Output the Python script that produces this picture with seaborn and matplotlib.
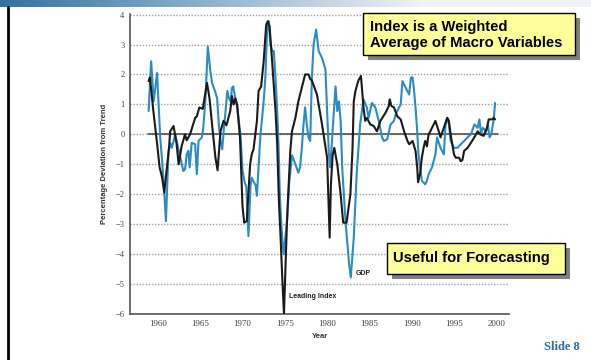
import numpy as np
import pandas as pd
import matplotlib
matplotlib.use("Agg")
import matplotlib.pyplot as plt
import seaborn as sns
from matplotlib.patches import Rectangle
from matplotlib.lines import Line2D

# Leading index (percentage deviation from trend)
lead_year = [1958.9, 1959.05, 1959.2, 1959.5, 1959.9, 1960.2, 1960.5, 1960.75, 1961.1, 1961.3,
             1961.45, 1961.85, 1962.2, 1962.45, 1962.8, 1963.2, 1963.4, 1963.8, 1964.4, 1964.6,
             1964.9, 1965.3, 1965.8, 1966.1, 1966.4, 1966.8, 1967.05, 1967.4, 1967.75, 1968.1,
             1968.55, 1968.75, 1968.95, 1969.15, 1969.35, 1969.7, 1970.0, 1970.2, 1970.5, 1970.9,
             1971.1, 1971.3, 1971.7, 1971.9, 1972.2, 1972.5, 1972.8, 1973.0, 1973.2, 1973.5,
             1973.9, 1974.1, 1974.3, 1974.5, 1974.7, 1974.9, 1975.27, 1975.65, 1975.85, 1976.25,
             1976.6, 1977.0, 1977.4, 1977.8, 1978.0, 1978.2, 1978.8, 1979.4, 1980.0, 1980.3,
             1980.45, 1980.65, 1980.85, 1981.2, 1981.6, 1981.9, 1982.3, 1982.75, 1983.0, 1983.15,
             1983.35, 1983.7, 1984.0, 1984.3, 1984.5, 1984.7, 1985.1, 1985.5, 1985.9, 1986.3,
             1986.9, 1987.3, 1987.4, 1987.6, 1987.9, 1988.3, 1988.7, 1989.1, 1989.5, 1989.7,
             1990.1, 1990.45, 1990.65, 1990.75, 1991.0, 1991.2, 1991.4, 1991.6, 1991.8, 1992.0,
             1992.2, 1992.4, 1992.8, 1993.2, 1993.4, 1993.8, 1994.2, 1994.4, 1994.6, 1995.0,
             1995.2, 1995.6, 1995.8, 1996.0, 1996.2, 1996.6, 1997.0, 1997.4, 1997.8, 1998.1,
             1998.5, 1998.9, 1999.1, 1999.5, 1999.7, 1999.85]
lead_value = [1.78, 1.9, 1.5, 0.68, -0.3, -1.1, -1.45, -1.95, -1.0, -0.5,
              0.1, 0.28, -0.3, -1.0, -0.4, 0.0, -0.2, 0.0, 0.55, 0.6,
              0.9, 0.85, 1.72, 1.2, 0.33, -0.78, -1.2, 0.1, 0.45, 0.3,
              0.78, 1.28, 1.0, 1.2, 1.0, -0.1, -2.4, -2.95, -2.9, -1.0,
              -0.65, -0.5, 0.44, 1.45, 1.6, 2.44, 3.67, 3.78, 3.6, 2.44,
              0.78, -0.33, -2.2, -3.45, -4.8, -6.0, -2.78, -0.55, 0.11, 0.55,
              1.1, 1.55, 2.0, 2.0, 1.85, 1.8, 1.33, 0.33, -0.78, -3.45,
              -1.67, -0.7, -0.45, -1.0, -2.0, -2.95, -2.95, -2.0, -0.5, 1.1,
              1.45, 1.8, 1.95, 0.9, 0.45, 0.55, 0.33, 0.28, 0.1, 0.45,
              0.72, 0.95, 1.17, 0.95, 0.9, 0.6, 0.5, 0.1, -0.22, -0.33,
              -0.22, -0.55, -1.1, -1.6, -1.3, -0.78, -0.45, -0.22, -0.4, 0.0,
              0.1, 0.22, 0.45, 0.1, -0.1, 0.22, 0.55, 0.45, 0.0, -0.67,
              -0.78, -0.78, -0.9, -0.85, -0.55, -0.45, -0.28, -0.1, 0.1, 0.0,
              -0.05, 0.22, 0.5, 0.5, 0.55, 0.5]

# Real GDP (percentage deviation from trend)
gdp_year = [1958.9, 1959.2, 1959.5, 1959.9, 1960.27, 1960.5, 1960.7, 1960.95, 1961.25, 1961.5,
            1961.65, 1962.05, 1962.2, 1962.65, 1963.0, 1963.2, 1963.4, 1963.6, 1963.75, 1964.0,
            1964.4, 1964.6, 1964.8, 1965.2, 1965.35, 1965.6, 1965.9, 1966.2, 1966.4, 1966.8,
            1967.0, 1967.2, 1967.4, 1967.6, 1967.8, 1968.0, 1968.2, 1968.4, 1968.6, 1968.75,
            1968.9, 1969.15, 1969.35, 1969.75, 1970.0, 1970.25, 1970.45, 1970.7, 1970.95, 1971.1,
            1971.35, 1971.55, 1971.7, 1971.9, 1972.1, 1972.3, 1972.5, 1972.7, 1972.9, 1973.1,
            1973.3, 1973.5, 1973.7, 1973.9, 1974.1, 1974.25, 1974.4, 1974.55, 1974.7, 1974.86,
            1975.3, 1975.5, 1975.85, 1976.25, 1976.6, 1976.8, 1977.0, 1977.2, 1977.4, 1977.6,
            1977.8, 1978.0, 1978.2, 1978.4, 1978.7, 1979.0, 1979.4, 1979.8, 1980.0, 1980.2,
            1980.35, 1980.5, 1980.8, 1981.0, 1981.2, 1981.4, 1981.6, 1981.8, 1982.2, 1982.6,
            1982.8, 1983.15, 1983.5, 1983.9, 1984.3, 1984.7, 1984.9, 1985.3, 1985.7, 1986.1,
            1986.5, 1986.7, 1987.1, 1987.5, 1987.9, 1988.1, 1988.5, 1988.7, 1988.9, 1989.3,
            1989.7, 1989.9, 1990.1, 1990.25, 1990.45, 1990.65, 1990.8, 1991.2, 1991.6, 1991.8,
            1992.0, 1992.4, 1992.8, 1993.0, 1993.4, 1993.8, 1994.0, 1994.2, 1994.4, 1994.6,
            1995.0, 1995.4, 1995.8, 1996.2, 1996.6, 1997.0, 1997.4, 1997.8, 1998.0, 1998.2,
            1998.4, 1998.8, 1999.0, 1999.2, 1999.4, 1999.7, 1999.85]
gdp_value = [0.78, 2.44, 1.1, 2.05, -0.1, -0.9, -1.7, -2.9, -0.55, -0.3,
             -0.45, 0.0, -0.2, -0.78, -1.22, -1.17, -0.67, -0.55, -1.1, -0.28,
             -0.33, -1.33, -0.22, -0.1, 0.2, 1.1, 2.94, 2.1, 1.72, 1.4,
             1.2, 0.33, -0.22, -0.5, 0.2, 0.78, 1.45, 1.2, 1.1, 1.55,
             1.6, 1.2, 1.0, 0.0, -1.2, -1.6, -1.75, -3.4, -1.7, -1.45,
             -1.6, -1.7, -2.05, -1.1, -0.1, 0.5, 1.1, 1.9, 3.44, 3.78,
             3.0, 2.78, 2.78, 1.9, 0.78, -0.3, -1.9, -2.8, -3.5, -4.0,
             -2.78, -1.67, -0.7, -1.0, -1.28, -1.1, -0.5, 0.3, 0.9, 0.33,
             -0.1, -0.22, 1.9, 3.0, 3.5, 2.78, 2.55, 2.17, 0.78, -0.6,
             -1.1, -0.55, 0.78, 1.6, 0.78, 1.1, 0.45, -1.2, -3.0, -4.33,
             -4.78, -3.45, -1.3, 0.33, 1.17, 0.9, 0.55, 1.05, 0.9, 0.45,
             -0.1, -0.22, -0.17, 0.33, 0.45, 0.67, 0.9, 1.0, 1.78, 1.55,
             1.33, 1.9, 1.9, 1.55, 0.9, 0.1, -0.67, -1.55, -1.67, -1.55,
             -1.33, -1.1, -0.67, -0.1, -0.45, -0.67, 0.33, 0.55, 0.33, -0.22,
             -0.45, -0.45, -0.33, -0.22, -0.1, 0.0, 0.33, 0.22, 0.5, 0.0,
             0.22, 0.1, 0.33, -0.1, 0.0, 0.5, 1.05]

x_ticks = [1960, 1965, 1970, 1975, 1980, 1985, 1990, 1995, 2000]
y_ticks = [-6, -5, -4, -3, -2, -1, 0, 1, 2, 3, 4]

lead_df = pd.DataFrame({"Year": lead_year, "Deviation": lead_value})
gdp_df = pd.DataFrame({"Year": gdp_year, "Deviation": gdp_value})

sns.set_theme(style="white")
plt.rcParams["font.family"] = ["Liberation Sans", "DejaVu Sans"]

W, H = 591, 360
fig = plt.figure(figsize=(W / 100, H / 100), dpi=100)
fig.patch.set_facecolor("white")

# Header strip with a blue-to-white gradient
bar = fig.add_axes([0, 1 - 7 / H, 1, 7 / H])
grad = np.linspace(0, 1, 256)
c0 = np.array([0.20, 0.45, 0.63])
c1 = np.array([0.94, 0.95, 0.97])
ramp = np.clip(grad * 1.4, 0, 1)[:, None]
img = (c0 * (1 - ramp) + c1 * ramp)[None, :, :]
bar.imshow(img, aspect="auto", extent=[0, 1, 0, 1])
bar.set_axis_off()

# Left frame rule
fig.add_artist(Line2D([8 / W, 8 / W], [0, 1 - 7 / H], color="black", lw=2.0))

ax = fig.add_axes([130 / W, 1 - 314 / H, (509 - 130) / W, (314 - 14) / H])
ax.set_facecolor("white")
ax.set_xlim(1956.7, 2001.5)
ax.set_ylim(-6, 4.02)

grid_col = "#a0a0a0"
for yv in y_ticks[1:]:
    ax.axhline(yv, color=grid_col, lw=1.0, ls=(0, (1, 1.2)), zorder=1)
ax.plot([1958.8, 2000.2], [0, 0], color="#444444", lw=1.1, zorder=2)

sns.lineplot(data=gdp_df, x="Year", y="Deviation", ax=ax, color="#2b8cc4",
             lw=1.5, estimator=None, sort=False, zorder=3)
sns.lineplot(data=lead_df, x="Year", y="Deviation", ax=ax, color="#1a1a1a",
             lw=1.5, estimator=None, sort=False, zorder=4)

for side in ["top", "right"]:
    ax.spines[side].set_visible(False)
for side in ["left", "bottom"]:
    ax.spines[side].set_color("#555555")
    ax.spines[side].set_linewidth(1.2)

ax.set_xticks(x_ticks)
ax.set_xticklabels([str(v) for v in x_ticks])
ax.set_yticks(y_ticks)
ax.set_yticklabels([str(v).replace("-", "\u2212") for v in y_ticks])
ax.tick_params(axis="x", direction="in", length=5, width=1, color="#555555",
               pad=4, labelsize=6.5, labelcolor="#444444")
ax.tick_params(axis="y", length=0, pad=4, labelsize=6, labelcolor="#444444")
for lab in ax.get_xticklabels() + ax.get_yticklabels():
    lab.set_family("Liberation Serif")

ax.set_xlabel("Year", fontsize=5.5, fontweight="bold", color="#333333", labelpad=4)
ax.set_ylabel("Percentage Deviation from Trend", fontsize=5.5, fontweight="bold",
              color="#333333", labelpad=5)

ax.text(1983.4, -4.64, "GDP", fontsize=5, fontweight="bold", color="#222222",
        va="center", ha="left")
ax.text(1975.45, -5.41, "Leading Index", fontsize=5, fontweight="bold", color="#222222",
        va="center", ha="left")


def callout(x0, y0, x1, y1, lines, text_x, line_ys, size):
    off = 5
    fig.add_artist(Rectangle(((x0 + off) / W, 1 - (y1 + off) / H), (x1 - x0) / W,
                             (y1 - y0) / H, facecolor="#808080", edgecolor="none",
                             transform=fig.transFigure, zorder=10))
    fig.add_artist(Rectangle((x0 / W, 1 - y1 / H), (x1 - x0) / W, (y1 - y0) / H,
                             facecolor="#ffff99", edgecolor="black", lw=1.0,
                             transform=fig.transFigure, zorder=11))
    for txt, ty in zip(lines, line_ys):
        fig.text(text_x / W, 1 - ty / H, txt, fontsize=size, fontweight="bold",
                 color="black", va="center", ha="left", zorder=12)


callout(363, 13, 575, 55, ["Index is a Weighted", "Average of Macro Variables"],
        370, [26.5, 43.5], 10.6)
callout(387, 243, 565, 274, ["Useful for Forecasting"], 393, [258], 10.6)

fig.text(580 / W, 1 - 347 / H, "Slide 8", fontsize=9, fontweight="bold",
         color="#2e6e9e", family="Liberation Serif", ha="right", va="center")

fig.savefig("out.png", dpi=100, facecolor="white")
